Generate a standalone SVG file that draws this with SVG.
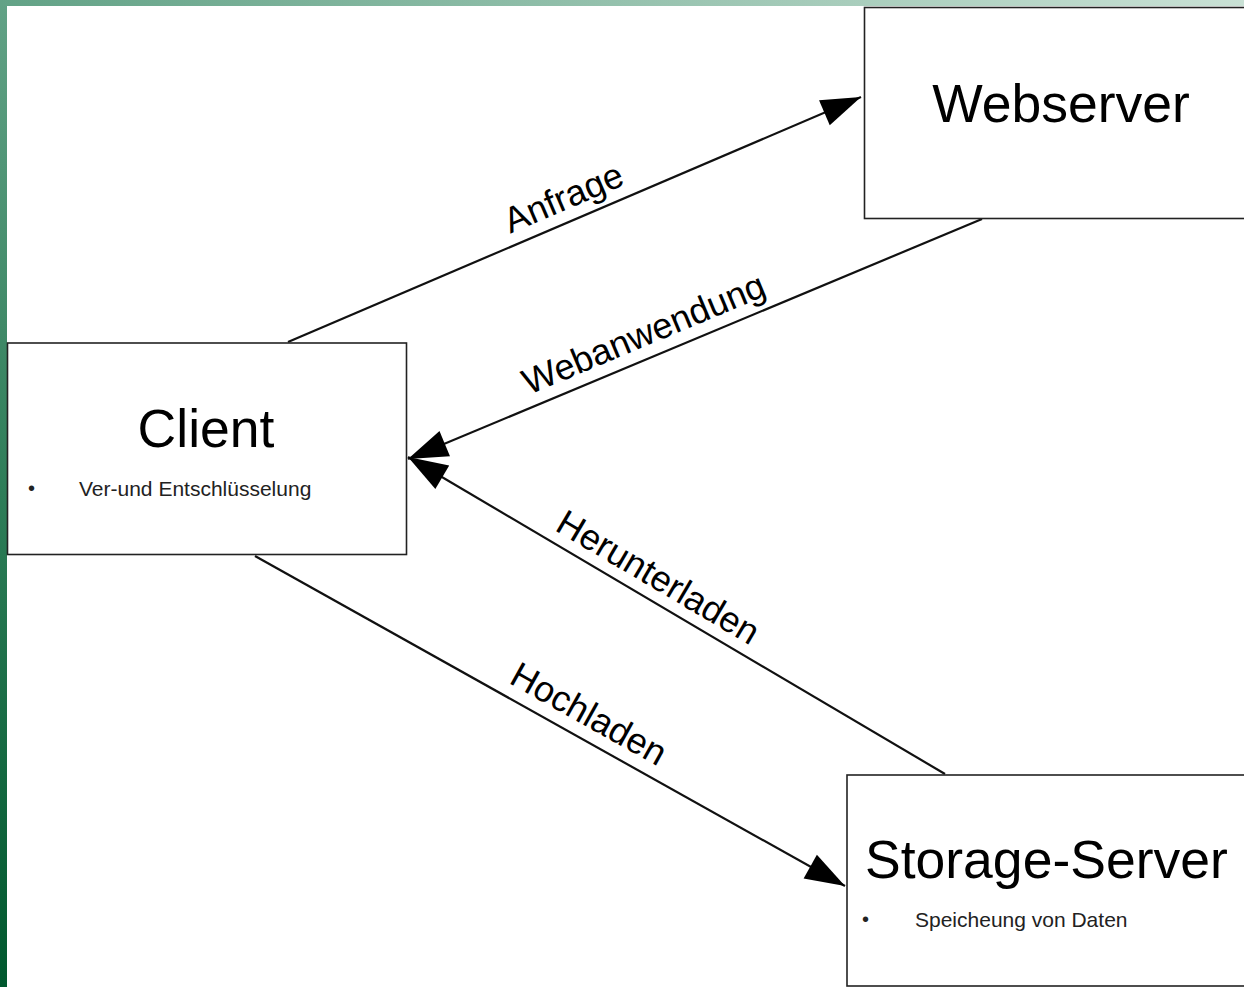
<svg xmlns="http://www.w3.org/2000/svg" width="1244" height="987" viewBox="0 0 1244 987">
  <defs>
    <linearGradient id="gLeft" x1="0" y1="0" x2="0" y2="1">
      <stop offset="0" stop-color="#62a286"/>
      <stop offset="0.5" stop-color="#2e7d58"/>
      <stop offset="1" stop-color="#00582e"/>
    </linearGradient>
    <linearGradient id="gTop" x1="0" y1="0" x2="1" y2="0">
      <stop offset="0" stop-color="#62a286"/>
      <stop offset="1" stop-color="#c9e1d5"/>
    </linearGradient>
    <marker id="arrow" markerUnits="userSpaceOnUse" markerWidth="44" markerHeight="32" refX="0" refY="0" viewBox="-40 -15 42 30" orient="auto">
      <path d="M0,0 L-38,-13 L-38,13 Z" fill="#000"/>
    </marker>
    <style>
      .box { fill: #fff; stroke: #222; stroke-width: 1.6; }
      .title { font-family: "Liberation Sans", Arial, sans-serif; font-size: 53.5px; fill: #000; }
      .sub { font-family: "Liberation Sans", Arial, sans-serif; font-size: 21px; fill: #222; }
      .bullet { font-family: "Liberation Sans", Arial, sans-serif; font-size: 20px; fill: #222; }
      .edge { stroke: #111; stroke-width: 2.2; fill: none; marker-end: url(#arrow); }
      .lbl { font-family: "Liberation Sans", Arial, sans-serif; font-size: 36px; fill: #000; text-anchor: middle; }
    </style>
  </defs>

  <rect x="0" y="0" width="1244" height="987" fill="#fff"/>
  <rect x="0" y="0" width="7" height="987" fill="url(#gLeft)"/>
  <rect x="0" y="0" width="1244" height="6" fill="url(#gTop)"/>

  <g id="connectors">
    <line class="edge" x1="288" y1="342" x2="861" y2="97"/>
    <line class="edge" x1="982" y1="219" x2="408" y2="459"/>
    <line class="edge" x1="945" y1="774" x2="408" y2="457"/>
    <line class="edge" x1="255" y1="556" x2="845" y2="886"/>
    <text class="lbl" transform="translate(573,220) rotate(-23.1)" y="-12">Anfrage</text>
    <text class="lbl" transform="translate(653,356) rotate(-22.7)" y="-12">Webanwendung</text>
    <text class="lbl" transform="translate(646,598) rotate(30.5)" y="-12">Herunterladen</text>
    <text class="lbl" transform="translate(577,735) rotate(29.2)" y="-12">Hochladen</text>
  </g>

  <g id="webserver">
    <rect class="box" x="864.5" y="7.5" width="400" height="211"/>
    <text class="title" x="1061" y="122" text-anchor="middle">Webserver</text>
  </g>

  <g id="client">
    <rect class="box" x="7.5" y="343" width="399" height="211.5"/>
    <text class="title" x="206" y="447" text-anchor="middle" font-size="54">Client</text>
    <text class="bullet" x="28" y="495">•</text>
    <text class="sub" x="79" y="496">Ver-und Entschlüsselung</text>
  </g>

  <g id="storage-server">
    <rect class="box" x="847" y="775" width="420" height="211"/>
    <text class="title" x="865" y="878">Storage-Server</text>
    <text class="bullet" x="862" y="926">•</text>
    <text class="sub" x="915" y="927">Speicheung von Daten</text>
  </g>
</svg>
